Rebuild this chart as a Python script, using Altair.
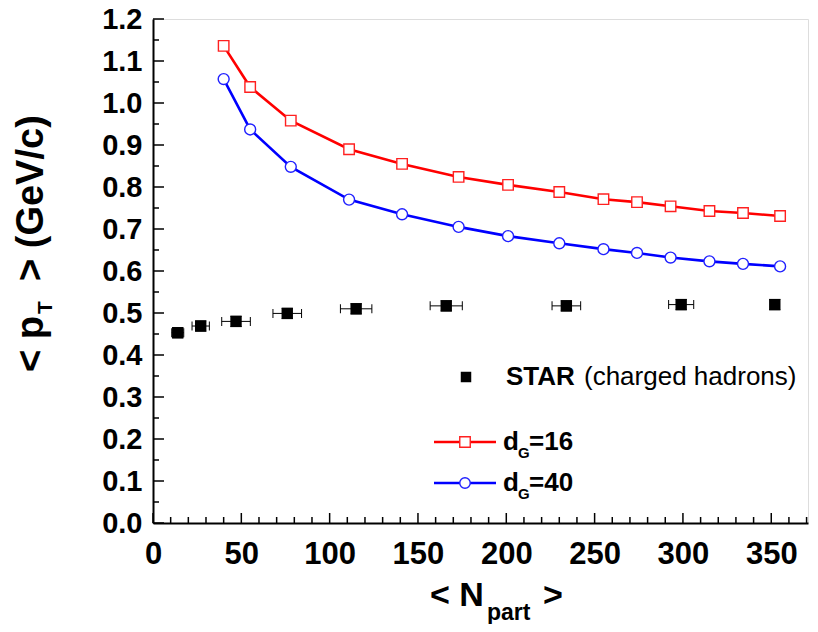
import altair as alt
import pandas as pd

# ---------------- data ----------------
npart_star = [14, 27, 47, 76, 115, 166, 234, 299, 352]
pt_star = [0.453, 0.469, 0.480, 0.499, 0.510, 0.517, 0.517, 0.520, 0.520]
npart_err = [3.4, 4.9, 8.1, 8.1, 8.9, 9.1, 8.1, 7.1, 2.3]
pt_err = [0.012, 0.012, 0.012, 0.012, 0.012, 0.012, 0.012, 0.012, 0.012]

npart_th = [40, 55, 78, 111, 141, 173, 201, 230, 255, 274, 293, 315, 334, 355]
pt_dg16 = [1.136, 1.038, 0.958, 0.890, 0.855, 0.824, 0.805, 0.788, 0.771, 0.764, 0.754, 0.743, 0.738, 0.731]
pt_dg40 = [1.057, 0.937, 0.848, 0.770, 0.735, 0.705, 0.683, 0.666, 0.652, 0.643, 0.632, 0.623, 0.617, 0.611]

x_major = [0, 50, 100, 150, 200, 250, 300, 350]
x_minor = [10, 20, 30, 40, 60, 70, 80, 90, 110, 120, 130, 140, 160, 170, 180, 190,
           210, 220, 230, 240, 260, 270, 280, 290, 310, 320, 330, 340, 360, 370]
y_major = [0.0, 0.1, 0.2, 0.3, 0.4, 0.5, 0.6, 0.7, 0.8, 0.9, 1.0, 1.1, 1.2]
y_minor = [0.05, 0.15, 0.25, 0.35, 0.45, 0.55, 0.65, 0.75, 0.85, 0.95, 1.05, 1.15]

# ---------------- tables ----------------
star = pd.DataFrame({"n": npart_star, "pt": pt_star})
star["xlo"] = [a - b for a, b in zip(npart_star, npart_err)]
star["xhi"] = [a + b for a, b in zip(npart_star, npart_err)]
star["ylo"] = [a - b for a, b in zip(pt_star, pt_err)]
star["yhi"] = [a + b for a, b in zip(pt_star, pt_err)]
th16 = pd.DataFrame({"n": npart_th, "pt": pt_dg16})
th40 = pd.DataFrame({"n": npart_th, "pt": pt_dg40})
xmaj = pd.DataFrame({"v": x_major})
xmin = pd.DataFrame({"v": x_minor})
ymaj = pd.DataFrame({"v": y_major})
ymin = pd.DataFrame({"v": y_minor})
one = pd.DataFrame({"a": [0]})

W, H = 655, 504
FONT = "Liberation Sans, Arial, Helvetica, sans-serif"

xsc = alt.Scale(domain=[0, 370.8], nice=False, zero=False)
ysc = alt.Scale(domain=[0, 1.2], nice=False, zero=False)
xax = alt.Axis(values=x_major, format="d", ticks=False, tickSize=0, grid=False, title=None,
               labelFont=FONT, labelFontSize=31, labelFontWeight="bold", labelColor="black",
               labelPadding=16, labelFlush=False, labelOverlap=False,
               domainColor="black", domainWidth=2)
yax = alt.Axis(values=y_major, format=".1f", ticks=False, tickSize=0, grid=False, title=None,
               labelFont=FONT, labelFontSize=29, labelFontWeight="bold", labelColor="black",
               labelPadding=11, labelFlush=False, labelOverlap=False,
               domainColor="black", domainWidth=2)


def X(f):
    return alt.X(f, type="quantitative", scale=xsc, axis=xax)


def Y(f):
    return alt.Y(f, type="quantitative", scale=ysc, axis=yax)


layers = []

# inward ticks
layers.append(alt.Chart(xmaj).mark_rule(color="black", strokeWidth=1.5).encode(
    x=X("v"), y=alt.value(H), y2=alt.value(H - 10)))
layers.append(alt.Chart(xmin).mark_rule(color="black", strokeWidth=1.5).encode(
    x=X("v"), y=alt.value(H), y2=alt.value(H - 6)))
layers.append(alt.Chart(ymaj).mark_rule(color="black", strokeWidth=1.5).encode(
    y=Y("v"), x=alt.value(0), x2=alt.value(11)))
layers.append(alt.Chart(ymin).mark_rule(color="black", strokeWidth=1.5).encode(
    y=Y("v"), x=alt.value(0), x2=alt.value(6)))

# STAR error bars
layers.append(alt.Chart(star).mark_rule(color="black", strokeWidth=1).encode(
    x=X("xlo"), x2="xhi", y=Y("pt")))
layers.append(alt.Chart(star).mark_tick(orient="vertical", size=9, thickness=1, color="black", opacity=1).encode(
    x=X("xlo"), y=Y("pt")))
layers.append(alt.Chart(star).mark_tick(orient="vertical", size=9, thickness=1, color="black", opacity=1).encode(
    x=X("xhi"), y=Y("pt")))
layers.append(alt.Chart(star).mark_rule(color="black", strokeWidth=1).encode(
    x=X("n"), y=Y("ylo"), y2="yhi"))
layers.append(alt.Chart(star).mark_tick(orient="horizontal", size=11, thickness=1, color="black", opacity=1).encode(
    x=X("n"), y=Y("ylo")))
layers.append(alt.Chart(star).mark_tick(orient="horizontal", size=11, thickness=1, color="black", opacity=1).encode(
    x=X("n"), y=Y("yhi")))
layers.append(alt.Chart(star).mark_point(shape="square", filled=True, size=130, color="black", opacity=1).encode(
    x=X("n"), y=Y("pt")))

# theory curves
layers.append(alt.Chart(th16).mark_line(color="#ff0000", strokeWidth=2.6).encode(x=X("n"), y=Y("pt")))
layers.append(alt.Chart(th16).mark_point(shape="square", filled=True, fill="white", stroke="#ff2020",
                                         strokeWidth=1.4, size=110, opacity=1).encode(x=X("n"), y=Y("pt")))
layers.append(alt.Chart(th40).mark_line(color="#0000ff", strokeWidth=2.6).encode(x=X("n"), y=Y("pt")))
layers.append(alt.Chart(th40).mark_point(shape="circle", filled=True, fill="white", stroke="#2020ff",
                                         strokeWidth=1.4, size=120, opacity=1).encode(x=X("n"), y=Y("pt")))


def txt(s, x, y, size, weight="bold", font=FONT, angle=0, align="left", baseline="alphabetic"):
    kw = dict(text=s, font=font, fontSize=size, fontWeight=weight, color="black",
              align=align, baseline=baseline)
    if angle:
        kw["angle"] = angle
    return alt.Chart(one).mark_text(**kw).encode(x=alt.value(x), y=alt.value(y))


def seg(x1, x2, y, color):
    return alt.Chart(one).mark_rule(color=color, strokeWidth=2.6).encode(
        x=alt.value(x1), x2=alt.value(x2), y=alt.value(y))


def sym(x, y, shape, stroke, filled_black=False):
    if filled_black:
        return alt.Chart(one).mark_point(shape=shape, filled=True, color="black", size=110, opacity=1).encode(
            x=alt.value(x), y=alt.value(y))
    return alt.Chart(one).mark_point(shape=shape, filled=True, fill="white", stroke=stroke, strokeWidth=1.4,
                                     size=110, opacity=1).encode(x=alt.value(x), y=alt.value(y))


# legend
layers.append(sym(313, 358, "square", "black", filled_black=True))
layers.append(txt("STAR", 353, 366, 26))
layers.append(txt("(charged hadrons)", 431, 366, 26, weight="normal"))

layers.append(seg(281, 343, 423, "#ff0000"))
layers.append(sym(312, 423, "square", "#ff2020"))
layers.append(txt("d", 350, 431, 26))
layers.append(txt("G", 365, 439, 15))
layers.append(txt("=16", 376, 431, 26))

layers.append(seg(281, 343, 464, "#0000ff"))
layers.append(sym(312, 464, "circle", "#2020ff"))
layers.append(txt("d", 350, 472, 26))
layers.append(txt("G", 365, 480, 15))
layers.append(txt("=40", 376, 472, 26))

# x title
layers.append(txt("< N", 277, 587, 34))
layers.append(txt("part", 334, 601, 23))
layers.append(txt(">", 390, 587, 34))

# y title (rotated)
layers.append(txt("< p", -110, 353, 38, angle=270))
layers.append(txt("T", -101, 295, 21, angle=270))
layers.append(txt("> (GeV/c)", -110, 262, 38, angle=270))

chart = alt.layer(*layers).properties(
    width=W, height=H,
    autosize=alt.AutoSizeParams(type="none"),
    padding={"left": 145, "top": 11, "right": 2, "bottom": 101},
).configure_view(stroke=None).configure(background="white")

chart.save("out.html", embed_options={"renderer": "svg", "actions": False})
